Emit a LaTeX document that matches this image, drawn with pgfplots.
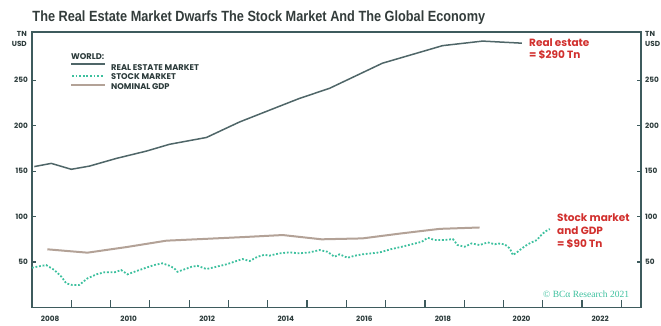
\documentclass[border=0pt]{standalone}
\usepackage{pgfplots}
\pgfplotsset{compat=1.18}
\usepackage{fontspec}
\setmainfont{Poppins}
\newfontfamily\titlefont[FakeStretch=0.86]{Liberation Sans}
\newfontfamily\serifc{Liberation Serif}
\definecolor{axiscol}{HTML}{3E5B5D}
\definecolor{recol}{HTML}{4F6668}
\definecolor{stcol}{HTML}{3DC09E}
\definecolor{gdpcol}{HTML}{B3A297}
\definecolor{redc}{HTML}{D1302E}
\definecolor{titlec}{HTML}{333C3B}
\definecolor{labc}{HTML}{2B3A3A}
\pgfplotstableread{
x y
2008.06 155
2008.49 158.5
2009.00 152
2009.46 155.5
2010.15 164
2010.91 172
2011.50 179.5
2012.44 187
2013.28 204
2014.22 220
2014.81 230
2015.57 241
2016.92 268.7
2018.45 288
2019.47 293
2020.47 290.7
}\realestate
\pgfplotstableread{
x y
2008.39 64
2009.41 60.3
2010.41 66.5
2011.42 73.5
2012.42 75.5
2013.40 77.5
2014.38 79.7
2015.37 75
2016.41 76
2017.40 81.5
2018.38 86.5
2019.39 88
}\gdp
\pgfplotstableread{
x y
2008.00 43.7
2008.13 44.9
2008.36 46.7
2008.57 41.2
2008.75 33.8
2008.87 26.6
2009.03 24.7
2009.20 24.7
2009.41 32
2009.64 36.5
2009.84 38.7
2010.10 38.7
2010.27 41.2
2010.43 36.5
2010.66 40.1
2010.86 43.1
2011.11 46.7
2011.32 48.6
2011.50 45.9
2011.62 43.1
2011.70 39.3
2011.83 41.2
2012.06 44.8
2012.21 45.9
2012.44 42.3
2012.69 44.8
2012.95 47.5
2013.20 51.1
2013.36 53.3
2013.54 51.1
2013.74 55.8
2013.92 58
2014.04 57
2014.30 59.6
2014.55 60.6
2014.81 59.6
2015.06 60.6
2015.32 63.2
2015.52 61.3
2015.70 55.8
2015.83 58.5
2016.03 54.7
2016.21 56.9
2016.41 58.5
2016.64 59.6
2016.85 60.6
2017.15 64.3
2017.41 66.8
2017.66 69.5
2017.92 72.3
2018.07 76.7
2018.25 74.2
2018.50 74.2
2018.71 75.3
2018.83 68.7
2019.01 66.8
2019.19 70.5
2019.39 68.7
2019.60 71.6
2019.78 69.5
2019.85 70.5
2020.03 69.5
2020.16 65
2020.24 57.7
2020.36 61.3
2020.49 65.7
2020.62 69.5
2020.75 72.3
2020.85 74.2
2020.92 77.8
2021.05 83.3
2021.18 86.3
}\stock
\begin{document}
\begin{tikzpicture}
\begin{axis}[at={(0pt,0pt)}, anchor=south west, scale only axis,
  width=609pt, height=275.5pt,
  xmin=2008, xmax=2023.5, ymin=0, ymax=303,
  axis line style={axiscol, line width=1.3pt},
  xtick={2008.46,2010.46,2012.46,2014.46,2016.46,2018.46,2020.46,2022.46},
  xticklabels={2008,2010,2012,2014,2016,2018,2020,2022},
  minor xtick={2009,2010,2011,2012,2013,2014,2015,2016,2017,2018,2019,2020,2021,2022,2023},
  ytick={50,100,150,200,250},
  tick style={axiscol, line width=1.2pt},
  major x tick style={draw=none},
  minor tick length=7.5pt,
  major tick length=4.5pt,
  tick align=inside,
  xtick pos=bottom,
  ytick pos=both,
  yticklabel pos=left,
  tick label style={font=\bfseries\fontsize{7.3}{8}\selectfont, text=labc},
  /pgf/number format/assume math mode=true,
  /pgf/number format/1000 sep={},
  yticklabel style={inner sep=0pt, xshift=-4pt},
  xticklabel style={inner sep=0pt, yshift=-8.5pt},
]
\addplot[gdpcol, line width=2pt] table {\gdp};
\addplot[stcol, line width=1.8pt, dash pattern=on 1.8pt off 1.8pt] table {\stock};
\addplot[recol, line width=1.5pt] table {\realestate};
\end{axis}
\begin{axis}[at={(0pt,0pt)}, anchor=south west, scale only axis,
  width=609pt, height=275.5pt,
  xmin=2008, xmax=2023.5, ymin=0, ymax=303,
  hide x axis, axis y line*=right, y axis line style={draw=none},
  ytick={50,100,150,200,250}, major tick length=0pt,
  /pgf/number format/assume math mode=true,
  yticklabel style={inner sep=0pt, xshift=4pt, font=\bfseries\fontsize{7.3}{8}\selectfont, text=labc},
]
\end{axis}
\pgfresetboundingbox
\useasboundingbox (-32pt,-17.5pt) rectangle (629pt,307.5pt);
% title
\node[anchor=base west, inner sep=0pt, text=titlec, font=\titlefont\bfseries\fontsize{14.8}{17}\selectfont] at (0.3pt,286.5pt) {The Real Estate Market Dwarfs The Stock Market And The Global Economy};
% units
\begin{scope}[every node/.style={inner sep=0pt, text=labc, font=\bfseries\fontsize{7.3}{8}\selectfont}]
\node[anchor=base east] at (-5pt,271.5pt) {TN};
\node[anchor=base east] at (-5pt,261pt) {USD};
\node[anchor=base west] at (613pt,271.5pt) {TN};
\node[anchor=base west] at (613pt,261pt) {USD};
\end{scope}
% legend
\begin{scope}[every node/.style={inner sep=0pt, anchor=base west, text=labc, font=\bfseries\fontsize{8.3}{9}\selectfont}]
\node at (39pt,248pt) {WORLD:};
\node at (79pt,237.5pt) {REAL ESTATE MARKET};
\node at (79pt,228.2pt) {STOCK MARKET};
\node at (79pt,218.2pt) {NOMINAL GDP};
\end{scope}
\draw[recol, line width=1.5pt] (39pt,243.5pt) -- (73pt,243.5pt);
\draw[stcol, line width=1.8pt, dash pattern=on 1.8pt off 1.8pt] (40pt,231.5pt) -- (71pt,231.5pt);
\draw[gdpcol, line width=2pt] (39pt,222.5pt) -- (73pt,222.5pt);
% annotations
\begin{scope}[every node/.style={inner sep=0pt, anchor=base west, text=redc, font=\bfseries\fontsize{10.5}{12}\selectfont}]
\node at (497pt,260.8pt) {Real estate};
\node at (497pt,249.2pt) {= \$290 Tn};
\node at (525pt,85.8pt) {Stock market};
\node at (525pt,73.2pt) {and GDP};
\node at (525pt,60.5pt) {= \$90 Tn};
\end{scope}
\node[anchor=base west, inner sep=0pt, text=stcol, font=\serifc\fontsize{9.5}{10}\selectfont] at (511pt,10.5pt) {© BCα Research 2021};
\end{tikzpicture}
\end{document}
